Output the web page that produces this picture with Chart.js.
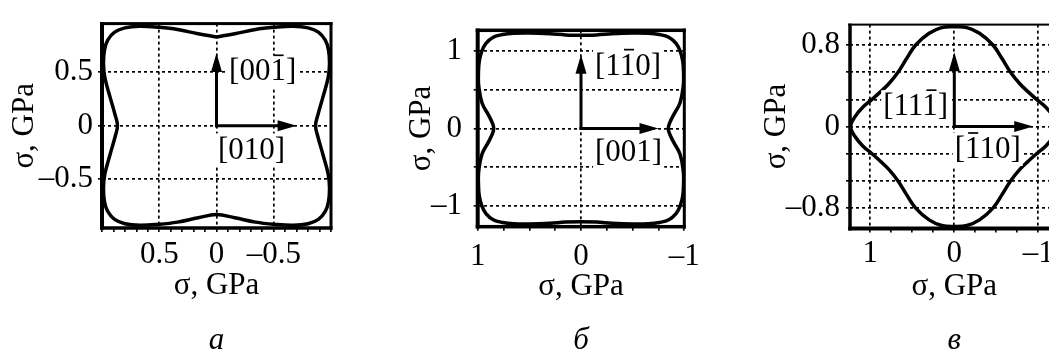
<!DOCTYPE html>
<html>
<head>
<meta charset="utf-8">
<script src="https://cdn.jsdelivr.net/npm/chart.js@4.4.1/dist/chart.umd.min.js"></script>
<style>
html, body { margin: 0; padding: 0; background: #fff; overflow: hidden; }
body { width: 1049px; height: 354px; position: relative; }
canvas { position: absolute; top: 0; }
</style>
</head>
<body>
<canvas id="chartA" width="350" height="354" style="left:0px"></canvas>
<canvas id="chartB" width="350" height="354" style="left:350px"></canvas>
<canvas id="chartC" width="380" height="354" style="left:700px"></canvas>
<script>
// stress loops, [sigma_x, sigma_y] in GPa
const curveA = [
  [0, 0.83], [0.16, 0.86], [0.34, 0.90], [0.5, 0.92], [0.67, 0.93], [0.80, 0.915], [0.89, 0.875],
  [0.95, 0.80], [0.978, 0.71], [0.987, 0.58], [0.975, 0.45], [0.93, 0.27], [0.885, 0.10], [0.865, 0],
  [0.885, -0.10], [0.93, -0.27], [0.975, -0.45], [0.987, -0.58], [0.978, -0.71], [0.95, -0.80],
  [0.89, -0.875], [0.80, -0.915], [0.67, -0.93], [0.5, -0.92], [0.34, -0.90], [0.16, -0.86], [0, -0.83],
  [-0.16, -0.86], [-0.34, -0.90], [-0.5, -0.92], [-0.67, -0.93], [-0.80, -0.915], [-0.89, -0.875],
  [-0.95, -0.80], [-0.978, -0.71], [-0.987, -0.58], [-0.975, -0.45], [-0.93, -0.27], [-0.885, -0.10], [-0.865, 0],
  [-0.885, 0.10], [-0.93, 0.27], [-0.975, 0.45], [-0.987, 0.58], [-0.978, 0.71], [-0.95, 0.80],
  [-0.89, 0.875], [-0.80, 0.915], [-0.67, 0.93], [-0.5, 0.92], [-0.34, 0.90], [-0.16, 0.86], [0, 0.83]
];
const curveB = [
  [0, 1.205], [0.15, 1.21], [0.3, 1.225], [0.5, 1.235], [0.65, 1.232], [0.76, 1.215], [0.85, 1.18],
  [0.92, 1.10], [0.96, 1.0], [0.985, 0.87], [0.993, 0.7], [0.99, 0.55], [0.958, 0.33], [0.894, 0.17],
  [0.855, 0.06], [0.845, 0],
  [0.855, -0.06], [0.894, -0.17], [0.958, -0.33], [0.99, -0.55], [0.993, -0.7], [0.985, -0.87],
  [0.96, -1.0], [0.92, -1.10], [0.85, -1.18], [0.76, -1.215], [0.65, -1.232], [0.5, -1.235],
  [0.3, -1.225], [0.15, -1.21], [0, -1.205],
  [-0.15, -1.21], [-0.3, -1.225], [-0.5, -1.235], [-0.65, -1.232], [-0.76, -1.215], [-0.85, -1.18],
  [-0.92, -1.10], [-0.96, -1.0], [-0.985, -0.87], [-0.993, -0.7], [-0.99, -0.55], [-0.958, -0.33],
  [-0.894, -0.17], [-0.855, -0.06], [-0.845, 0],
  [-0.855, 0.06], [-0.894, 0.17], [-0.958, 0.33], [-0.99, 0.55], [-0.993, 0.7], [-0.985, 0.87],
  [-0.96, 1.0], [-0.92, 1.10], [-0.85, 1.18], [-0.76, 1.215], [-0.65, 1.232], [-0.5, 1.235],
  [-0.3, 1.225], [-0.15, 1.21], [0, 1.205]
];
const curveC = [
  [0, 0.98], [0.15, 0.97], [0.3, 0.915], [0.46, 0.80], [0.57, 0.665], [0.67, 0.533], [0.78, 0.42],
  [0.88, 0.34], [0.98, 0.267], [1.09, 0.19], [1.18, 0.10], [1.235, 0],
  [1.18, -0.10], [1.09, -0.19], [0.98, -0.267], [0.88, -0.34], [0.78, -0.42], [0.67, -0.533],
  [0.57, -0.665], [0.46, -0.80], [0.3, -0.915], [0.15, -0.97], [0, -0.98],
  [-0.15, -0.97], [-0.3, -0.915], [-0.46, -0.80], [-0.57, -0.665], [-0.67, -0.533], [-0.78, -0.42],
  [-0.88, -0.34], [-0.98, -0.267], [-1.09, -0.19], [-1.18, -0.10], [-1.235, 0],
  [-1.18, 0.10], [-1.09, 0.19], [-0.98, 0.267], [-0.88, 0.34], [-0.78, 0.42], [-0.67, 0.533],
  [-0.57, 0.665], [-0.46, 0.80], [-0.3, 0.915], [-0.15, 0.97], [0, 0.98]
];

// axis ticks: all tick marks, dotted grid lines, labelled values
const ticksAx = [-1, -0.9, -0.8, -0.7, -0.6, -0.5, -0.4, -0.3, -0.2, -0.1, 0, 0.1, 0.2, 0.3, 0.4, 0.5, 0.6, 0.7, 0.8, 0.9, 1];
const gridAx = [-0.5, 0, 0.5];
const labelsAx = [-0.5, 0, 0.5];
const ticksAy = [-0.5, 0, 0.5];
const labelsAy = [-0.5, 0, 0.5];

const ticksBx = [-1, -0.75, -0.5, -0.25, 0, 0.25, 0.5, 0.75, 1];
const gridBx = [-1, 0, 1];
const labelsBx = [-1, 0, 1];
const ticksBy = [-1, -0.5, 0, 0.5, 1];
const labelsBy = [-1, 0, 1];

const ticksCx = [-1, -0.75, -0.5, -0.25, 0, 0.25, 0.5, 0.75, 1];
const gridCx = [-1, 0, 1];
const labelsCx = [-1, 0, 1];
const ticksCy = [-0.8, -0.5333, -0.2667, 0, 0.2667, 0.5333, 0.8];
const labelsCy = [-0.8, 0, 0.8];

// crystal directions drawn as arrows [x0, y0, x1, y1]
const arrowsA = [[0, 0, 0, 0.68], [0, 0, -0.70, 0]];
const arrowsB = [[0, 0, 0, 0.953], [0, 0, -0.75, 0]];
const arrowsC = [[0, 0, 0, 0.728], [0, 0, -0.94, 0]];

const FONT = '"Liberation Serif", "Times New Roman", serif';
const FS = 31;

function fmt(v) {
  return v < 0 ? '\u2013' + String(-v) : String(v);
}

function decor(p) {
  return {
    id: 'decor',
    afterDatasetsDraw(chart) {
      const {ctx, scales: {x, y}} = chart;
      ctx.save();
      ctx.font = FS + 'px ' + FONT;
      ctx.textBaseline = 'middle';
      ctx.textAlign = 'left';
      p.labels.forEach(l => {
        const w = ctx.measureText(l.text).width;
        let px = x.getPixelForValue(l.x);
        if (l.align === 'right') px -= w;
        const py = y.getPixelForValue(l.y);
        ctx.fillStyle = '#fff';
        ctx.fillRect(px - 2, py - 17, w + 4, 33);
        ctx.fillStyle = '#000';
        ctx.fillText(l.text, px, py);
        if (l.bar != null) {
          const pre = ctx.measureText(l.text.slice(0, l.bar)).width;
          const cw = ctx.measureText(l.text[l.bar]).width;
          ctx.strokeStyle = '#000';
          ctx.lineWidth = 1.7;
          ctx.beginPath();
          ctx.moveTo(px + pre + cw * 0.2, py - 17);
          ctx.lineTo(px + pre + cw * 0.85, py - 17);
          ctx.stroke();
        }
      });
      p.arrows.forEach(([x0, y0, x1, y1]) => {
        const X0 = x.getPixelForValue(x0), Y0 = y.getPixelForValue(y0);
        const X1 = x.getPixelForValue(x1), Y1 = y.getPixelForValue(y1);
        const ang = Math.atan2(Y1 - Y0, X1 - X0);
        const L = 19, H = 5.5;
        const bx = X1 - L * Math.cos(ang), by = Y1 - L * Math.sin(ang);
        ctx.strokeStyle = '#000';
        ctx.fillStyle = '#000';
        ctx.lineWidth = 3;
        ctx.lineCap = 'square';
        ctx.beginPath();
        ctx.moveTo(X0, Y0);
        ctx.lineTo(bx, by);
        ctx.stroke();
        ctx.beginPath();
        ctx.moveTo(X1, Y1);
        ctx.lineTo(bx + H * Math.sin(ang), by - H * Math.cos(ang));
        ctx.lineTo(bx - H * Math.sin(ang), by + H * Math.cos(ang));
        ctx.closePath();
        ctx.fill();
      });
      ctx.restore();
    },
    afterDraw(chart) {
      const {ctx, chartArea: a, scales: {x}} = chart;
      const f = p.frame;
      ctx.save();
      ctx.fillStyle = '#000';
      const L = a.left - f.l / 2, R = a.right + f.r / 2, T = a.top - f.t / 2, B = a.bottom + f.b / 2;
      ctx.fillRect(L, T, f.l, B - T);
      ctx.fillRect(a.right - f.r / 2, T, f.r, B - T);
      ctx.fillRect(L, T, R - L, f.t);
      ctx.fillRect(L, a.bottom - f.b / 2, R - L, f.b);
      ctx.font = 'italic ' + FS + 'px ' + FONT;
      ctx.textAlign = 'center';
      ctx.textBaseline = 'alphabetic';
      ctx.fillText(p.letter, x.getPixelForValue(0), 349);
      ctx.restore();
    }
  };
}

function axis(o) {
  const horiz = o.dir === 'x';
  return {
    type: 'linear',
    position: horiz ? 'bottom' : 'left',
    min: o.min,
    max: o.max,
    reverse: !!o.reverse,
    afterBuildTicks: s => { s.ticks = o.ticks.map(v => ({value: v})); },
    afterFit: s => { if (horiz) s.height = o.size; else s.width = o.size; },
    ticks: {
      autoSkip: false,
      maxRotation: 0,
      padding: o.pad,
      color: '#000',
      font: {family: FONT, size: FS},
      callback: v => o.labels.includes(v) ? fmt(v) : ''
    },
    grid: {
      color: c => (c.tick && o.grid.includes(c.tick.value)) ? '#000' : 'rgba(0,0,0,0)',
      lineWidth: 1.7,
      tickColor: '#000',
      tickLength: 4,
      tickWidth: 1.6
    },
    border: {display: false, dash: [3, 3]},
    title: {
      display: true,
      text: '\u03c3, GPa',
      color: '#000',
      font: {family: FONT, size: FS},
      padding: horiz ? {top: 0, bottom: o.tpad} : {top: o.tpad, bottom: 0}
    }
  };
}

function panel(id, curve, xs, ys, pad, deco) {
  new Chart(document.getElementById(id), {
    type: 'scatter',
    data: {
      datasets: [{
        data: curve.map(([x, y]) => ({x, y})),
        showLine: true,
        borderColor: '#000',
        borderWidth: 3.5,
        pointRadius: 0,
        tension: 0.4,
        fill: false
      }]
    },
    options: {
      responsive: false,
      animation: false,
      devicePixelRatio: 1,
      events: [],
      layout: {padding: pad},
      plugins: {legend: {display: false}, tooltip: {enabled: false}},
      scales: {x: axis(xs), y: axis(ys)}
    },
    plugins: [decor(deco)]
  });
}

panel('chartA', curveA,
  {dir: 'x', min: -1, max: 1, reverse: true, ticks: ticksAx, grid: gridAx, labels: labelsAx, size: 126, pad: 4, tpad: 49.5},
  {dir: 'y', min: -0.955, max: 0.955, ticks: ticksAy, grid: ticksAy, labels: labelsAy, size: 102, pad: 5, tpad: 6.5},
  {left: 0, right: 19, top: 10, bottom: 0},
  {
    frame: {l: 4, t: 3, r: 3, b: 3.5},
    arrows: arrowsA,
    letter: '\u0430',
    labels: [
      {text: '[001]', bar: 3, x: -0.11, y: 0.5, align: 'left'},
      {text: '[010]', x: -0.013, y: -0.23, align: 'left'}
    ]
  });

panel('chartB', curveB,
  {dir: 'x', min: -1, max: 1, reverse: true, ticks: ticksBx, grid: gridBx, labels: labelsBx, size: 127.3, pad: 7.5, tpad: 48.8},
  {dir: 'y', min: -1.27, max: 1.27, ticks: ticksBy, grid: ticksBy, labels: labelsBy, size: 127.7, pad: 11.7, tpad: 53.5},
  {left: 0, right: 15.7, top: 11.7, bottom: 0},
  {
    frame: {l: 4, t: 3.5, r: 3, b: 3.5},
    arrows: arrowsB,
    letter: '\u0431',
    labels: [
      {text: '[110]', bar: 2, x: -0.136, y: 0.80, align: 'left'},
      {text: '[001]', x: -0.136, y: -0.31, align: 'left'}
    ]
  });

panel('chartC', curveC,
  {dir: 'x', min: -1.242, max: 1.242, reverse: true, ticks: ticksCx, grid: gridCx, labels: labelsCx, size: 125.5, pad: 3, tpad: 48.8},
  {dir: 'y', min: -1, max: 1, ticks: ticksCy, grid: ticksCy, labels: labelsCy, size: 150, pad: 6, tpad: 58.2},
  {left: 0, right: 21.4, top: 8, bottom: 0},
  {
    frame: {l: 3.5, t: 2, r: 3, b: 4},
    arrows: arrowsC,
    letter: '\u0432',
    labels: [
      {text: '[111]', bar: 3, x: 0.075, y: 0.19, align: 'right'},
      {text: '[110]', bar: 1, x: -0.005, y: -0.23, align: 'left'}
    ]
  });
</script>
</body>
</html>
